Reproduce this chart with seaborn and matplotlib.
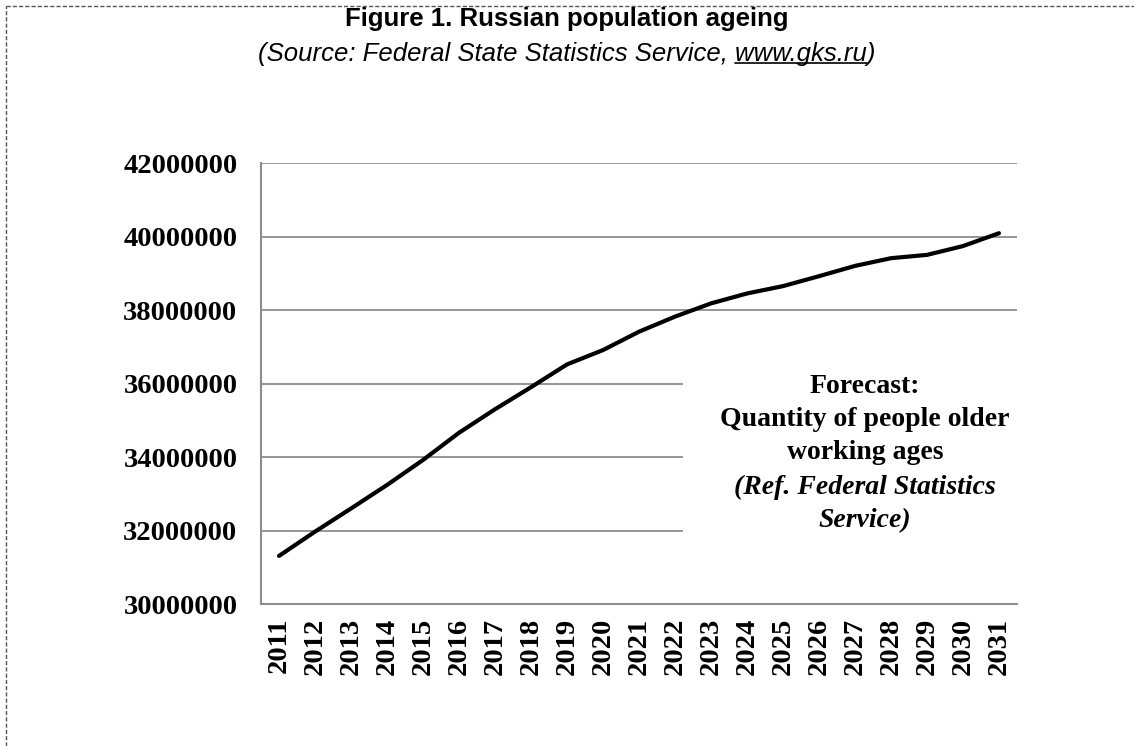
import numpy as np
import pandas as pd
import matplotlib
matplotlib.use('Agg')
import matplotlib.pyplot as plt
from matplotlib.lines import Line2D
from matplotlib.patches import Rectangle
import seaborn as sns

# data
years = [2011, 2012, 2013, 2014, 2015, 2016, 2017, 2018, 2019, 2020, 2021,
         2022, 2023, 2024, 2025, 2026, 2027, 2028, 2029, 2030, 2031]
older_pop = [31310000, 31970000, 32600000, 33240000, 33920000, 34660000,
             35300000, 35900000, 36520000, 36910000, 37410000, 37820000,
             38180000, 38450000, 38650000, 38920000, 39200000, 39410000,
             39500000, 39740000, 40090000]
y_ticks = [30000000, 32000000, 34000000, 36000000, 38000000, 40000000, 42000000]

title = 'Figure 1. Russian population ageing'
sub_prefix = '(Source: Federal State Statistics Service, '
sub_link = 'www.gks.ru'
sub_suffix = ')'
note_bold = 'Forecast:\nQuantity of people older\nworking ages'
note_ital = '(Ref. Federal Statistics\nService)'

sns.set_theme(style='white')
plt.rcParams['font.family'] = ['Liberation Serif', 'DejaVu Serif']
plt.rcParams['text.color'] = 'black'
plt.rcParams['xtick.labelcolor'] = 'black'
plt.rcParams['ytick.labelcolor'] = 'black'

df = pd.DataFrame({'pos': range(len(years)), 'value': older_pop})

fig = plt.figure(figsize=(11.34, 7.46), dpi=100)
ax = fig.add_axes([0.2302, 0.1903, 0.6666, 0.5912])
grid_col = '#8c8c8c'

sns.lineplot(data=df, x='pos', y='value', ax=ax, color='black', lw=3, zorder=3)

ax.set_xlim(-0.5, len(years) - 0.5)
ax.set_ylim(y_ticks[0], y_ticks[-1])
ax.set_axisbelow(True)
ax.yaxis.grid(True, color=grid_col, lw=1.3)
ax.xaxis.grid(False)

# x axis: labels at category centres, tick marks between categories
ax.set_xticks(range(len(years)))
ax.set_xticklabels([str(y) for y in years], rotation=90, fontsize=20.5, fontweight='bold')
ax.set_xticks(np.arange(-0.5, len(years), 1.0), minor=True)
ax.tick_params(axis='x', which='major', length=0, pad=10)
ax.tick_params(axis='x', which='minor', length=8, width=1.3, color=grid_col, direction='out')

ax.set_yticks(y_ticks)
ax.set_yticklabels([str(v) for v in y_ticks], fontsize=20.5, fontweight='bold')
ax.tick_params(axis='y', length=9, width=1.3, color=grid_col, direction='out', pad=8)
ax.set_xlabel('')
ax.set_ylabel('')

for s in ['top', 'right']:
    ax.spines[s].set_visible(False)
for s in ['left', 'bottom']:
    ax.spines[s].set_color(grid_col)
    ax.spines[s].set_linewidth(1.5)

# white box behind the note (hides gridlines)
ax.add_patch(Rectangle((0.558, 0.07), 0.45, 0.52, transform=ax.transAxes,
                       facecolor='white', edgecolor='none', zorder=2.5))
ax.text(0.799, 0.4195, note_bold, transform=ax.transAxes, ha='center', va='center',
        fontsize=20, fontweight='bold', linespacing=1.42, zorder=4)
ax.text(0.799, 0.2268, note_ital, transform=ax.transAxes, ha='center', va='center',
        fontsize=20, fontweight='bold', fontstyle='italic', linespacing=1.42, zorder=4)

# title and source line
fig.text(0.5, 0.975, title, ha='center', va='center', fontsize=18.5,
         fontweight='bold', family=['Liberation Sans', 'DejaVu Sans'])
sub_kw = dict(fontsize=18.5, fontstyle='italic', family=['Liberation Sans', 'DejaVu Sans'])
sub = fig.text(0.5, 0.928, sub_prefix + sub_link + sub_suffix, ha='center', va='center', **sub_kw)

# underline the link
r = fig.canvas.get_renderer()
bb = sub.get_window_extent(r)
t1 = fig.text(0, 0, sub_prefix + sub_link, **sub_kw)
w1 = t1.get_window_extent(r).width
t1.remove()
t2 = fig.text(0, 0, sub_link, **sub_kw)
w2 = t2.get_window_extent(r).width
t2.remove()
W, H = fig.get_size_inches() * fig.dpi
x_end = bb.x0 + w1
x_start = x_end - w2
y_ul = bb.y0 + 3
fig.add_artist(Line2D([x_start / W, x_end / W], [y_ul / H, y_ul / H],
                      transform=fig.transFigure, color='black', lw=1.2))

# dashed frame (top and left)
fig.add_artist(Line2D([6 / W, 1], [1 - 6 / H, 1 - 6 / H], transform=fig.transFigure,
                      color='#555555', lw=1, ls=(0, (3, 1.5))))
fig.add_artist(Line2D([6 / W, 6 / W], [0, 1 - 6 / H], transform=fig.transFigure,
                      color='#555555', lw=1, ls=(0, (3, 1.5))))

fig.savefig('out.png', dpi=100, facecolor='white')
